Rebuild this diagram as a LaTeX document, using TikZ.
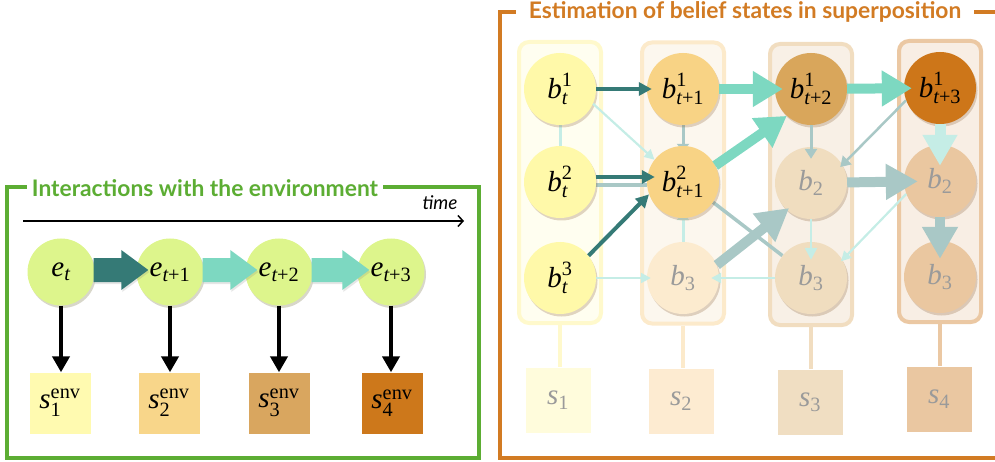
\documentclass[tikz,border=0pt]{standalone}
\usepackage{amsmath}
\usepackage{fontspec}
\setmainfont{Liberation Serif}
\setsansfont{Lato}
\usetikzlibrary{arrows.meta,calc,shadows,backgrounds}
\definecolor{gfr}{HTML}{5CAD33}
\definecolor{ofr}{HTML}{D27B23}
\definecolor{dk}{HTML}{357A76}
\definecolor{lt}{HTML}{7DD8C1}
\definecolor{gr}{HTML}{A9C8C6}
\definecolor{pl}{HTML}{C5EDE6}
\definecolor{ecirc}{HTML}{DDF58C}
\definecolor{ca}{HTML}{FFF9A9}
\definecolor{cb}{HTML}{F8D385}
\definecolor{cbf}{HTML}{FCEBCF}
\definecolor{cc}{HTML}{D9A65B}
\definecolor{ccf}{HTML}{F0DDBF}
\definecolor{cd}{HTML}{CD7619}
\definecolor{cdf}{HTML}{EAC7A0}
\definecolor{qa}{HTML}{FFFAB0}
\definecolor{qb}{HTML}{F8D68A}
\definecolor{qc}{HTML}{D9A65F}
\definecolor{qd}{HTML}{CD781B}
\definecolor{sa}{HTML}{FFFCDC}
\definecolor{sb}{HTML}{FDEBD1}
\definecolor{sc}{HTML}{F0DEC2}
\definecolor{sd}{HTML}{EAC7A1}
\definecolor{ra}{HTML}{FFF9CC}
\definecolor{rb}{HTML}{FCEACB}
\definecolor{rc}{HTML}{F1DDC0}
\definecolor{rd}{HTML}{EBC8A3}
\definecolor{fa}{HTML}{FFFEF0}
\definecolor{fb}{HTML}{FCF7EE}
\definecolor{fc}{HTML}{F8F0E6}
\definecolor{fd}{HTML}{F8EEE4}
\definecolor{txg}{HTML}{9A9A9A}
\newcommand{\bl}[2]{$\textit{b}^{\textrm{#1}}_{#2}$}
\newcommand{\fb}[1]{$\textit{b}_{\textrm{#1}}$}
\newcommand{\tp}[1]{\textit{t}\textrm{+#1}}
\begin{document}
\begin{tikzpicture}[x=1pt,y=-1pt,
  lbl/.style={font=\fontsize{29}{32}\selectfont},
  bc/.style={circle, minimum size=72pt, inner sep=0pt, lbl,
    drop shadow={shadow xshift=1.5pt, shadow yshift=-2.5pt, opacity=0.25, fill=brown!70!black}},
  ec/.style={circle, minimum size=67pt, inner sep=0pt, lbl, fill=ecirc,
    drop shadow={shadow xshift=1.5pt, shadow yshift=-2.5pt, opacity=0.25, fill=olive!60!black}},
  fd/.style={text=txg},
  colbox/.style={rectangle, rounded corners=10pt, line width=4pt, minimum width=82pt, minimum height=281pt, inner sep=0pt},
  sq/.style={rectangle, minimum size=65pt, inner sep=0pt, lbl},
  esq/.style={rectangle, minimum size=61pt, inner sep=0pt, lbl},
  dkar/.style={dk, line width=4pt, -{Triangle[length=13pt,width=13pt]}},
  plar/.style={pl, line width=2.2pt, -{Triangle[length=10pt,width=10pt]}},
  grar/.style={gr, line width=3pt, -{Triangle[length=10pt,width=12pt]}},
  bigl/.style={lt, line width=10pt, -{Triangle[length=30pt,width=34pt]}},
  bigg/.style={gr, line width=10pt, -{Triangle[length=32pt,width=34pt]}},
  bigp/.style={pl, line width=11pt, -{Triangle[length=31pt,width=33pt]}},
  blk/.style={black, line width=4pt, -{Triangle[length=16pt,width=17pt]}},
  ttl/.style={font=\sffamily\bfseries\fontsize{22.8}{25}\selectfont, fill=white}
]
\useasboundingbox (0,0) rectangle (995,462);
% ---------------- left panel ----------------
\draw[gfr, line width=3.5pt] (7,187) rectangle (479,458);
\node[ttl, text=gfr, inner xsep=5pt, inner ysep=0pt] (gt) at (205,188) {Interactions with the environment};
\coordinate (ts) at (23,221);
\coordinate (te) at (464,221);
\draw[line width=1.5pt, -{Straight Barb[length=5pt,width=11pt]}] (ts) -- (te);
\node[font=\sffamily\itshape\fontsize{19}{21}\selectfont, anchor=base east] (tm) at (461,210) {time};
\node[ec] (e0) at (61,272) {$\textit{e}_{\textit{t}}$};
\node[ec] (e1) at (170,272) {$\textit{e}_{\tp{1}}$};
\node[ec] (e2) at (279,272) {$\textit{e}_{\tp{2}}$};
\node[ec] (e3) at (391,272) {$\textit{e}_{\tp{3}}$};
\node[esq, fill=qa] (q0) at (60,403) {$\textit{s}^{\textrm{env}}_{\textrm{1}}$};
\node[esq, fill=qb] (q1) at (169,403) {$\textit{s}^{\textrm{env}}_{\textrm{2}}$};
\node[esq, fill=qc] (q2) at (279,403) {$\textit{s}^{\textrm{env}}_{\textrm{3}}$};
\node[esq, fill=qd] (q3) at (392,403) {$\textit{s}^{\textrm{env}}_{\textrm{4}}$};
\foreach \a/\b in {e0/q0,e1/q1,e2/q2,e3/q3}
  \draw[blk] (\a.south) -- (\a.south |- \b.north);
\foreach \a/\b/\c in {e0/e1/dk,e1/e2/lt,e2/e3/lt}{
  \fill[\c, drop shadow={shadow xshift=1pt, shadow yshift=-2pt, opacity=0.2}]
    ($(\a.east)+(-1,-14)$) -- ($(\b.west)+(-15,-14)$) -- ($(\b.west)+(-15,-22)$)
    -- ($(\b.west)+(12,-2)$) -- ($(\b.west)+(-15,18)$) -- ($(\b.west)+(-15,10)$)
    -- ($(\a.east)+(-1,10)$) -- cycle;
}
% ---------------- right panel ----------------
\draw[ofr, line width=3.5pt] (1000,12) -- (500,12) -- (500,458) -- (1000,458);
\node[ttl, text=ofr, inner xsep=13pt, inner ysep=0pt] (ot) at (745,12) {Estimation of belief states in superposition};
\begin{scope}[on background layer]
\node[colbox, draw=ra, fill=fa] (r1) at (560,182.5) {};
\node[colbox, draw=rb, fill=fb] (r2) at (683,183) {};
\node[colbox, draw=rc, fill=fc] (r3) at (811,184.5) {};
\node[colbox, draw=rd, fill=fd] (r4) at (940,181.5) {};
\end{scope}
\node[sq, fill=sa, fd] (s1) at (558,400) {$\textit{s}_{\textrm{1}}$};
\node[sq, fill=sb, fd] (s2) at (681,401) {$\textit{s}_{\textrm{2}}$};
\node[sq, fill=sc, fd] (s3) at (810,402) {$\textit{s}_{\textrm{3}}$};
\node[sq, fill=sd, fd] (s4) at (939,399) {$\textit{s}_{\textrm{4}}$};
\foreach \r/\s/\c in {r1/s1/ra,r2/s2/rb,r3/s3/rc,r4/s4/rd}
  \draw[\c, line width=4pt] (\r.south) -- (\r.south |- \s.north);
% circles
\node[bc, fill=ca] (a1) at (560,89) {\bl{1}{\textit{t}}};
\node[bc, fill=ca] (a2) at (560,182) {\bl{2}{\textit{t}}};
\node[bc, fill=ca] (a3) at (560,278) {\bl{3}{\textit{t}}};
\node[bc, fill=cb] (c1) at (683,89) {\bl{1}{\tp{1}}};
\node[bc, fill=cb] (c2) at (683,182) {\bl{2}{\tp{1}}};
\node[bc, fill=cbf, fd] (c3) at (683,278) {\fb{3}};
\node[bc, fill=cc] (d1) at (811,89) {\bl{1}{\tp{2}}};
\node[bc, fill=ccf, fd] (d2) at (811,183) {\fb{2}};
\node[bc, fill=ccf, fd] (d3) at (811,278) {\fb{3}};
\node[bc, fill=cd] (f1) at (940,88) {\bl{1}{\tp{3}}};
\node[bc, fill=cdf, fd] (f2) at (940,181) {\fb{2}};
\node[bc, fill=cdf, fd] (f3) at (940,277) {\fb{3}};
% arrows partly hidden behind circles
\begin{scope}[on background layer]
\draw[gr, line width=3pt, -{Triangle[length=8pt,width=12pt]}] (c1) -- ([yshift=-6pt]c2.north);
\draw[pl, line width=3pt, -{Triangle[length=8pt,width=12pt]}] (c3) -- ([yshift=6pt]c2.south);
\draw[gr, line width=3.5pt] ([yshift=-3pt]a2.east) -- ([yshift=-3pt]c2.west);
\draw[gr, line width=3.5pt] (c2.326) -- (d3.142);
\draw[pl, line width=3pt] (a1) -- (a2);
\end{scope}
% visible arrows
\draw[dkar, shorten >=-5pt] (a1) -- (c1);
\draw[plar] (a1.336) -- (c2.142);
\draw[dkar, shorten >=-8pt] ([yshift=5pt]a2.east) -- ([yshift=5pt]c2.west);
\draw[dkar] (a3.38) -- (c2.200);
\draw[plar, shorten >=-4pt] (a3) -- (c3);
\draw[bigl, shorten >=-8pt] (c1) -- (d1);
\draw[bigl] (c2.27) -- (d1.228);
\draw[bigg, shorten >=-3pt] (c3.21) -- (d2.228);
\draw[plar, shorten >=-8pt] (d3) -- (c3);
\draw[grar, shorten >=-12pt] (d1) -- (d2);
\draw[plar, line width=2.5pt, -{Triangle[length=12pt,width=12pt]}, shorten >=-18pt] (d2) -- (d3);
\draw[bigl, shorten >=-8pt] (d1) -- (f1);
\draw[grar, line width=2.5pt, shorten >=-3pt] (f1.200) -- (d2.30);
\draw[bigg, shorten >=-14pt] (d2) -- (f2);
\draw[plar, shorten >=-2pt] (f2.201) -- (d3.30);
\draw[bigp, shorten >=-21pt] (f1) -- (f2);
\draw[bigg, shorten >=-18pt] (f2) -- (f3);
\end{tikzpicture}
\end{document}
